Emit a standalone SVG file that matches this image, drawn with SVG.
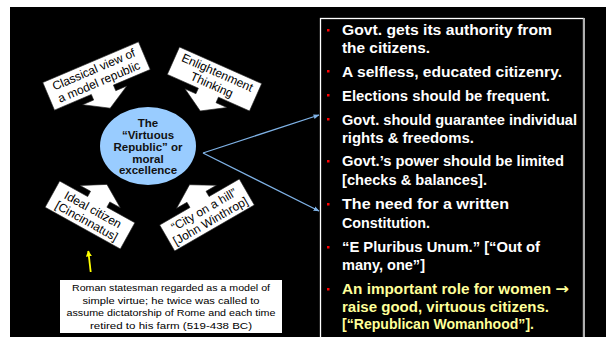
<svg xmlns="http://www.w3.org/2000/svg" width="606" height="337" viewBox="0 0 606 337">
<style>
.co{fill:#fff;stroke:#222;stroke-width:0.6}
.ct{font-family:"Liberation Sans",Arial,sans-serif;font-size:12px;fill:#000;text-anchor:middle}
.et{font-family:"Liberation Sans",Arial,sans-serif;font-size:11.5px;font-weight:bold;fill:#111;text-anchor:middle}
.bt{font-family:"Liberation Sans",Arial,sans-serif;font-size:14px;font-weight:bold;fill:#fff}
.yt{fill:#ffff99}
.cap{font-family:"Liberation Sans",Arial,sans-serif;font-size:9.5px;fill:#000;text-anchor:middle}
.bul{fill:#ff0000}
.con{stroke:#7fb2e6;stroke-width:1.3;fill:none}
</style>
<defs>
<marker id="ah" viewBox="0 0 10 10" refX="9" refY="5" markerWidth="6" markerHeight="6" orient="auto" markerUnits="userSpaceOnUse">
<path d="M0,1 L10,5 L0,9 Z" fill="#7fb2e6"/>
</marker>
<marker id="ya" viewBox="0 0 10 10" refX="9" refY="5" markerWidth="6" markerHeight="6" orient="auto" markerUnits="userSpaceOnUse">
<path d="M0,0 L10,5 L0,10 Z" fill="#ffff00"/>
</marker>
</defs>
<rect x="10" y="7" width="596" height="330" fill="#000"/>

<g id="classical" transform="translate(96.5,76) rotate(-23)">
<path class="co" d="M-52,-15 H52 V15 H12 V21 H24 L0,35 L-24,21 H-12 V15 H-52 Z"/>
<text class="ct" x="0" y="-3">Classical view of</text>
<text class="ct" x="0" y="10.5">a model republic</text>
</g>

<g id="enlightenment" transform="translate(214.5,79) rotate(24)">
<path class="co" d="M-45,-15 H45 V15 H11 V21 H23 L0,35 L-23,21 H-11 V15 H-45 Z"/>
<text class="ct" x="0" y="-3">Enlightenment</text>
<text class="ct" x="0" y="10.5">Thinking</text>
</g>

<g id="ideal" transform="translate(90,215) rotate(29)">
<path class="co" d="M-43,15 H43 V-15 H11 V-21 H23 L0,-35 L-23,-21 H-11 V-15 H-43 Z"/>
<text class="ct" x="0" y="-2">Ideal citizen</text>
<text class="ct" x="0" y="11">[Cincinnatus]</text>
</g>

<g id="city" transform="translate(207,215) rotate(-30)">
<path class="co" d="M-46,15 H46 V-15 H11 V-21 H23 L0,-35 L-23,-21 H-11 V-15 H-46 Z"/>
<text class="ct" x="0" y="-2">“City on a hill”</text>
<text class="ct" x="0" y="11">[John Winthrop]</text>
</g>

<g id="center">
<ellipse cx="148" cy="146" rx="48" ry="39" fill="#99ccff"/>
<text class="et" x="148" y="127">The</text>
<text class="et" x="148" y="139">“Virtuous</text>
<text class="et" x="148" y="151">Republic” or</text>
<text class="et" x="148" y="162.5">moral</text>
<text class="et" x="148" y="174">excellence</text>
</g>

<g id="connectors">
<line class="con" x1="203" y1="153" x2="319" y2="115" marker-end="url(#ah)"/>
<line class="con" x1="203" y1="153" x2="319" y2="211" marker-end="url(#ah)"/>
<line x1="90.7" y1="272" x2="88.3" y2="251" stroke="#ffff00" stroke-width="1.8" marker-end="url(#ya)"/>
</g>

<g id="caption">
<rect x="60" y="280" width="222" height="53" fill="#fff"/>
<text class="cap" x="171" y="291" textLength="198" lengthAdjust="spacingAndGlyphs">Roman statesman regarded as a model of</text>
<text class="cap" x="171" y="303.5" textLength="177" lengthAdjust="spacingAndGlyphs">simple virtue; he twice was called to</text>
<text class="cap" x="171" y="316" textLength="209" lengthAdjust="spacingAndGlyphs">assume dictatorship of Rome and each time</text>
<text class="cap" x="171" y="328.5" textLength="162" lengthAdjust="spacingAndGlyphs">retired to his farm (519-438 BC)</text>
</g>

<g id="panel">
<rect x="320.5" y="18.5" width="263" height="330" fill="#000" stroke="#ffffff" stroke-width="1.3"/>
<line x1="584" y1="18" x2="584" y2="337" stroke="#b0b0b0" stroke-width="2"/>
<rect class="bul" x="327" y="29" width="2.5" height="2.5"/>
<rect class="bul" x="327" y="70" width="2.5" height="2.5"/>
<rect class="bul" x="327" y="94" width="2.5" height="2.5"/>
<rect class="bul" x="327" y="118" width="2.5" height="2.5"/>
<rect class="bul" x="327" y="160" width="2.5" height="2.5"/>
<rect class="bul" x="327" y="203" width="2.5" height="2.5"/>
<rect class="bul" x="327" y="246" width="2.5" height="2.5"/>
<rect class="bul" x="327" y="288" width="2.5" height="2.5"/>
<text class="bt" x="342" y="35" textLength="210" lengthAdjust="spacingAndGlyphs">Govt. gets its authority from</text>
<text class="bt" x="342" y="53" textLength="88" lengthAdjust="spacingAndGlyphs">the citizens.</text>
<text class="bt" x="342" y="77" textLength="220" lengthAdjust="spacingAndGlyphs">A selfless, educated citizenry.</text>
<text class="bt" x="342" y="101" textLength="208" lengthAdjust="spacingAndGlyphs">Elections should be frequent.</text>
<text class="bt" x="342" y="125" textLength="235" lengthAdjust="spacingAndGlyphs">Govt. should guarantee individual</text>
<text class="bt" x="342" y="143" textLength="132" lengthAdjust="spacingAndGlyphs">rights &amp; freedoms.</text>
<text class="bt" x="342" y="166" textLength="222" lengthAdjust="spacingAndGlyphs">Govt.’s power should be limited</text>
<text class="bt" x="342" y="185" textLength="145" lengthAdjust="spacingAndGlyphs">[checks &amp; balances].</text>
<text class="bt" x="342" y="209" textLength="167" lengthAdjust="spacingAndGlyphs">The need for a written</text>
<text class="bt" x="342" y="228" textLength="88" lengthAdjust="spacingAndGlyphs">Constitution.</text>
<text class="bt" x="342" y="252" textLength="198" lengthAdjust="spacingAndGlyphs">“E Pluribus Unum.” [“Out of</text>
<text class="bt" x="342" y="270" textLength="83" lengthAdjust="spacingAndGlyphs">many, one”]</text>
<text class="bt yt" x="342" y="294" textLength="227" lengthAdjust="spacingAndGlyphs">An important role for women <tspan font-family="DejaVu Sans" font-size="15">→</tspan></text>
<text class="bt yt" x="342" y="312" textLength="207" lengthAdjust="spacingAndGlyphs">raise good, virtuous citizens.</text>
<text class="bt yt" x="342" y="329" textLength="192" lengthAdjust="spacingAndGlyphs">[“Republican Womanhood”].</text>
</g>
</svg>
